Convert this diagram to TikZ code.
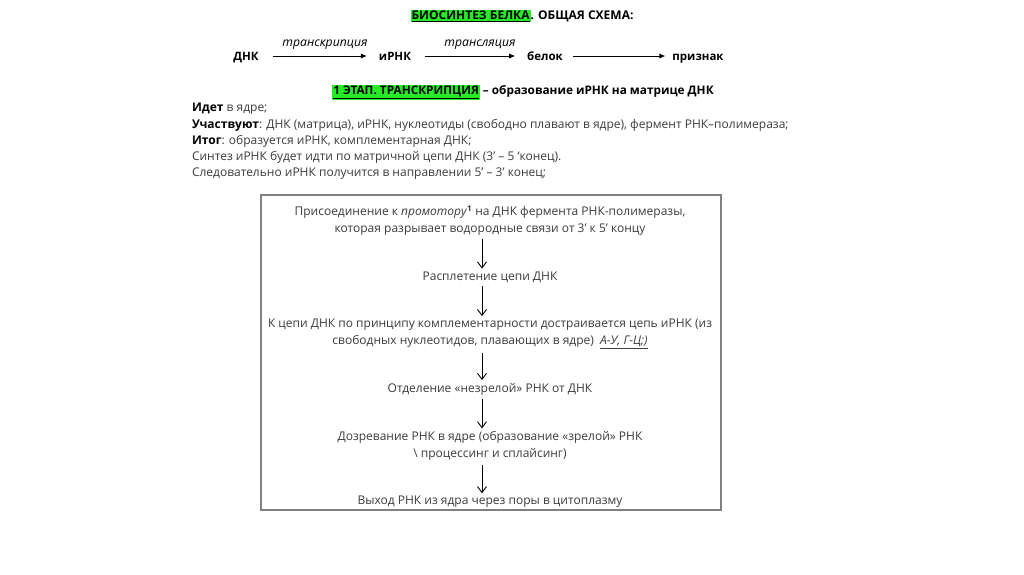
\documentclass[tikz,border=0pt]{standalone}
\usepackage{fontspec}
\setmainfont{Open Sans}
\usetikzlibrary{arrows.meta}
\definecolor{hl}{RGB}{40,235,40}
\definecolor{txt}{RGB}{60,60,60}
\definecolor{frm}{RGB}{128,128,128}
\begin{document}
\begin{tikzpicture}[x=1pt,y=-1pt,
  every node/.style={inner sep=0pt, outer sep=0pt},
  toprow/.style={font=\fontsize{11.5}{13}\selectfont\bfseries, text=black, anchor=base},
  toplbl/.style={font=\fontsize{12.2}{14}\selectfont\itshape, text=black, anchor=base},
  toparr/.style={-{Latex[length=6pt,width=5pt]}, line width=0.9pt},
  bodytxt/.style={font=\fontsize{12}{16.3}\selectfont, text=txt, anchor=base west},
  boxtxt/.style={font=\fontsize{12}{17}\selectfont, text=txt, align=center},
  boxarr/.style={-{Straight Barb[length=6pt,width=9pt]}, line width=0.9pt, black, shorten <=4pt, shorten >=3pt},
]
\useasboundingbox (0,0) rectangle (1024,574);
\fill[white] (0,0) rectangle (1024,574);
\setlength{\fboxsep}{1pt}
% title
\node (title) at (522,16) {\fontsize{12}{14}\selectfont\bfseries\colorbox{hl}{\underline{БИОСИНТЕЗ БЕЛКА}}. ОБЩАЯ СХЕМА:};
% top row
\node[toprow] (dnk) at (246,60.5) {ДНК};
\node[toprow] (irnk) at (395,60.5) {иРНК};
\node[toprow] (belok) at (545,60.5) {белок};
\node[toprow] (priznak) at (698,60.5) {признак};
\coordinate (rowy) at (0,56);
\draw[toparr, shorten <=14pt, shorten >=12pt] (dnk.east |- rowy) -- (irnk.west |- rowy);
\draw[toparr, shorten <=14pt, shorten >=12pt] (irnk.east |- rowy) -- (belok.west |- rowy);
\draw[toparr, shorten <=10pt, shorten >=7pt] (belok.east |- rowy) -- (priznak.west |- rowy);
\node[toplbl] (lbl1) at (325,46) {транскрипция};
\node[toplbl] (lbl2) at (480,46) {трансляция};
% heading 2
\node (head2) at (523,92) {\fontsize{11.8}{14}\selectfont\bfseries\colorbox{hl}{\underline{1 ЭТАП. ТРАНСКРИПЦИЯ}} – образование иРНК на матрице ДНК};
% body text
\node[bodytxt] (l1) at (192,111.5) {\textbf{\color{black}Идет} в ядре;};
\node[bodytxt] (l2) at (192,128) {\textbf{\color{black}Участвуют}: ДНК (матрица), иРНК, нуклеотиды (свободно плавают в ядре), фермент РНК–полимераза;};
\node[bodytxt] (l3) at (192,144.5) {\textbf{\color{black}Итог}: образуется иРНК, комплементарная ДНК;};
\node[bodytxt] (l4) at (192,160.5) {Синтез иРНК будет идти по матричной цепи ДНК (3’ – 5 ‘конец).};
\node[bodytxt] (l5) at (192,176.5) {Следовательно иРНК получится в направлении 5’ – 3’ конец;};
% frame
\node[draw=frm, line width=1.3pt, minimum width=460pt, minimum height=315pt] (frame) at (491,352.5) {};
% box steps
\node[boxtxt] (s1) at (490,220.5) {Присоединение к \textit{промотору}\textsuperscript{\textbf{1}} на ДНК фермента РНК-полимеразы,\\которая разрывает водородные связи от 3’ к 5’ концу};
\node[boxtxt] (s2) at (490,277) {Расплетение цепи ДНК};
\node[boxtxt] (s3) at (490,334) {К цепи ДНК по принципу комплементарности достраивается цепь иРНК (из\\свободных нуклеотидов, плавающих в ядре) \ \underline{\textit{А-У, Г-Ц;)}}};
\node[boxtxt] (s4) at (490,389) {Отделение «незрелой» РНК от ДНК};
\node[boxtxt] (s5) at (490,446) {Дозревание РНК в ядре (образование «зрелой» РНК\\\textbackslash\ процессинг и сплайсинг)};
\node[boxtxt] (s6) at (490,502) {Выход РНК из ядра через поры в цитоплазму};
\coordinate (ax) at (482,0);
\draw[boxarr] (s1.south -| ax) -- (s2.north -| ax);
\draw[boxarr] (s2.south -| ax) -- (s3.north -| ax);
\draw[boxarr] (s3.south -| ax) -- (s4.north -| ax);
\draw[boxarr] (s4.south -| ax) -- (s5.north -| ax);
\draw[boxarr] (s5.south -| ax) -- (s6.north -| ax);
\end{tikzpicture}
\end{document}
